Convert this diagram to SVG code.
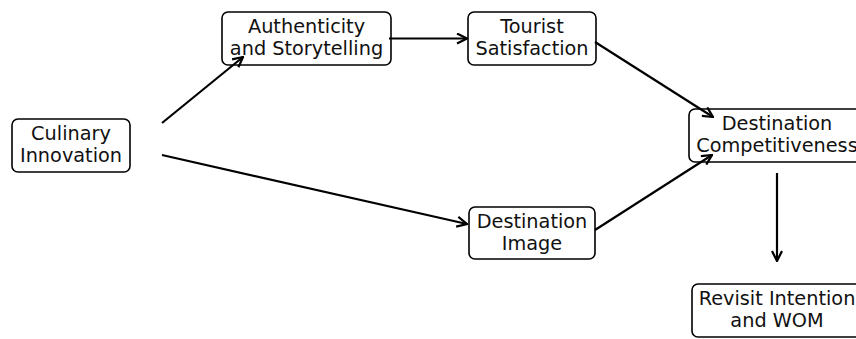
<svg xmlns="http://www.w3.org/2000/svg" width="856" height="339" viewBox="0 0 856 339">
<defs>
<style>
.box{fill:#fff;stroke:#000;stroke-width:1.6}
.t{font-family:"DejaVu Sans",sans-serif;font-size:19.3px;fill:#111;text-anchor:middle}
.c{stroke:#000;stroke-width:2.2;fill:none;marker-end:url(#ah)}
</style>
<marker id="ah" viewBox="0 0 12 12" refX="11" refY="6" markerWidth="12" markerHeight="12" markerUnits="userSpaceOnUse" orient="auto">
<path d="M1,1 L11,6 L1,11" fill="none" stroke="#000" stroke-width="2.2" stroke-linejoin="miter"/>
</marker>
</defs>
<rect width="856" height="339" fill="#fff"/>
<g id="culinary">
<rect class="box" x="12" y="119" width="118" height="53" rx="6"/>
<text class="t" x="71" y="140">Culinary</text>
<text class="t" x="71" y="162">Innovation</text>
</g>
<g id="authenticity">
<rect class="box" x="222" y="12" width="169" height="53" rx="6"/>
<text class="t" x="306.5" y="33">Authenticity</text>
<text class="t" x="306.5" y="55">and Storytelling</text>
</g>
<g id="tourist">
<rect class="box" x="468" y="12" width="128" height="53" rx="6"/>
<text class="t" x="532" y="33">Tourist</text>
<text class="t" x="532" y="55">Satisfaction</text>
</g>
<g id="competitiveness">
<rect class="box" x="689" y="109" width="178" height="53" rx="6"/>
<text class="t" x="777" y="130">Destination</text>
<text class="t" x="777" y="152">Competitiveness</text>
</g>
<g id="image">
<rect class="box" x="469" y="207" width="126" height="52" rx="6"/>
<text class="t" x="532" y="228">Destination</text>
<text class="t" x="532" y="250">Image</text>
</g>
<g id="revisit">
<rect class="box" x="692" y="284" width="172" height="53" rx="6"/>
<text class="t" x="777" y="305">Revisit Intention</text>
<text class="t" x="777" y="327">and WOM</text>
</g>
<g id="connectors">
<line class="c" x1="162" y1="123" x2="243" y2="57"/>
<line class="c" x1="162" y1="155" x2="467" y2="224"/>
<line class="c" x1="389" y1="38.5" x2="467" y2="38.5"/>
<line class="c" x1="595" y1="42" x2="713" y2="117"/>
<line class="c" x1="595" y1="230" x2="712" y2="155"/>
<line class="c" x1="777" y1="173" x2="777" y2="261"/>
</g>
</svg>
